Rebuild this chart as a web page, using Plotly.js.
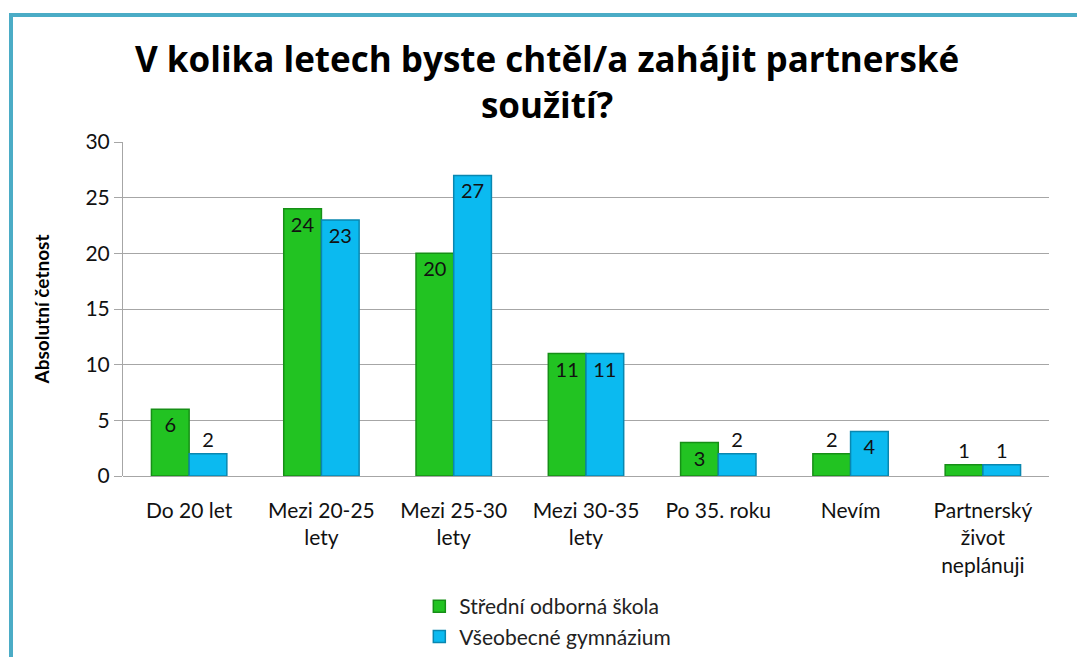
<!DOCTYPE html>
<html>
<head>
<meta charset="utf-8">
<script src="https://cdn.plot.ly/plotly-3.0.1.min.js"></script>
<style>
  html, body { margin: 0; padding: 0; background: #fff; }
  #wrap { position: relative; width: 1077px; height: 657px; overflow: hidden; }
  #frame { position: absolute; left: 9px; top: 13px; width: 1100px; height: 700px;
           border-top: 4px solid #4BACC6; border-left: 4px solid #4BACC6; box-sizing: border-box; pointer-events: none; }
  #chart { position: absolute; left: 0; top: 0; width: 1077px; height: 657px; }
</style>
</head>
<body>
<div id="wrap">
  <div id="chart"></div>
  <div id="frame"></div>
</div>
<script>
const categories = [
  "Do 20 let",
  "Mezi 20-25<br>lety",
  "Mezi 25-30<br>lety",
  "Mezi 30-35<br>lety",
  "Po 35. roku",
  "Nevím",
  "Partnerský<br>život<br>neplánuji"
];
const seriesNames = ["Střední odborná škola", "Všeobecné gymnázium"];
const sosValues = [6, 24, 20, 11, 3, 2, 1];
const gymValues = [2, 23, 27, 11, 2, 4, 1];
const yTicks = [0, 5, 10, 15, 20, 25, 30];

const font = "Lato, 'Open Sans', 'DejaVu Sans', sans-serif";
function pos(vals) { return vals.map(v => v >= 3 ? "inside" : "outside"); }

function barTrace(name, vals, color, edge) {
  return {
    type: "bar", name: name, x: categories, y: vals,
    text: vals.map(String), textposition: pos(vals),
    insidetextanchor: "end", cliponaxis: false, constraintext: "none",
    textfont: { family: font, size: 20, color: "#111" },
    outsidetextfont: { family: font, size: 20, color: "#111" },
    insidetextfont: { family: font, size: 20, color: "#111" },
    marker: { color: color, line: { color: edge, width: 1.5 } },
    hoverinfo: "skip"
  };
}

const traces = [
  barTrace(seriesNames[0], sosValues, "#22C322", "#168F16"),
  barTrace(seriesNames[1], gymValues, "#0BBAF0", "#0987B0")
];

const layout = {
  width: 1077, height: 657,
  paper_bgcolor: "rgba(0,0,0,0)", plot_bgcolor: "#fff",
  margin: { l: 123, r: 28, t: 142, b: 181, autoexpand: false },
  barmode: "group", bargap: 0.43, bargroupgap: 0,
  showlegend: true,
  title: {
    text: "<b>V kolika letech byste chtěl/a zahájit partnerské<br>soužití?</b>",
    font: { family: "'Open Sans', 'DejaVu Sans', sans-serif", size: 35, color: "#000" },
    x: 0.508, xanchor: "center", y: 0.89, yanchor: "top"
  },
  xaxis: {
    type: "category",
    tickfont: { family: font, size: 21, color: "#111" },
    showline: false, ticks: "", showgrid: false, zeroline: false,
    ticklabelstandoff: 20
  },
  yaxis: {
    range: [0, 30], tickvals: yTicks, ticktext: yTicks.map(String),
    tickfont: { family: font, size: 21, color: "#111" },
    showgrid: true, gridcolor: "#A6A6A6", gridwidth: 1,
    zeroline: true, zerolinecolor: "#A6A6A6", zerolinewidth: 1,
    showline: true, linecolor: "#A6A6A6", linewidth: 1,
    ticks: "outside", ticklen: 8, tickcolor: "#A6A6A6",
    title: { text: "<b>Absolutní četnost</b>", font: { family: font, size: 19, color: "#000" }, standoff: 30 }
  },
  legend: {
    orientation: "v", x: 0.32, xanchor: "left",
    yref: "container", y: 0.108, yanchor: "top",
    font: { family: font, size: 21, color: "#222" },
    itemwidth: 30, tracegroupgap: 0, traceorder: "normal"
  }
};

Plotly.newPlot("chart", traces, layout, { displayModeBar: false, staticPlot: true });
</script>
</body>
</html>
